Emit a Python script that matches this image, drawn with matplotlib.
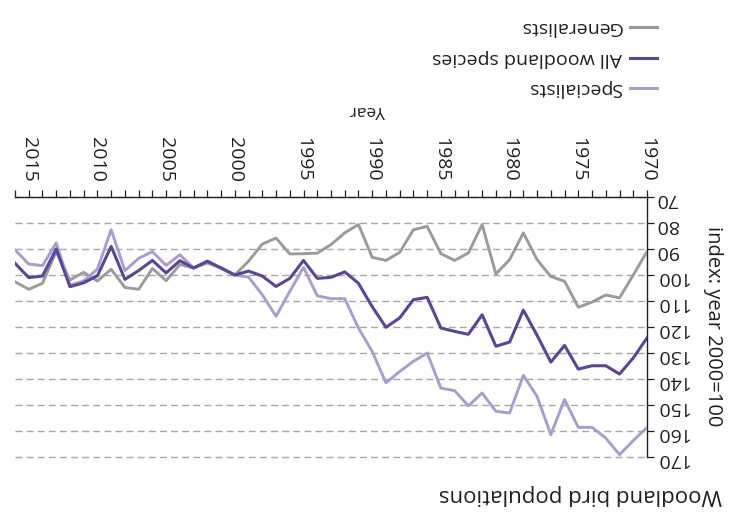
import matplotlib
matplotlib.use("Agg")
import matplotlib.pyplot as plt
from matplotlib.ticker import MultipleLocator
from matplotlib.lines import Line2D

# The reference chart is drawn upside down (rotated 180 degrees),
# so both axes are inverted and every text is rotated.

years = list(range(1970, 2017))

generalists = [91, 100, 108.8, 107.7, 110.4, 112.4, 102.4, 100.6, 94.1, 83.8,
               94.1, 99.6, 80.6, 91.5, 94.4, 91.8, 81.3, 82.6, 91.3, 94.4,
               93.2, 80.6, 83.8, 88.3, 91.6, 91.8, 91.9, 85.8, 88.1, 94.7,
               100, 97.3, 95.4, 97.3, 96.0, 102.2, 97.5, 105.5, 104.8, 97.8,
               102.3, 99, 101.9, 91, 103.2, 105.5, 102.6]

all_woodland = [124.2, 131.9, 138.1, 134.9, 134.9, 136.2, 127.1, 133.5, 123.2, 113.5,
                125.8, 127.4, 115.3, 122.8, 121.7, 120.4, 108.6, 109.5, 116.5, 120.1,
                112.2, 103.2, 98.8, 100.9, 101.3, 94.4, 101.3, 104.4, 100.4, 98.5,
                100, 97.3, 94.7, 97.3, 94.5, 99.2, 94.4, 98.3, 101.7, 89,
                100.3, 103, 104.5, 90, 100.4, 101, 95.5]

specialists = [158.6, 163.7, 169.1, 162.7, 158.6, 158.6, 147.9, 161.4, 146.7, 138.6,
               153.1, 152.4, 145.4, 150.3, 144.5, 143.5, 130, 133.2, 137.1, 141.5,
               129.4, 120.4, 109.1, 109.1, 108, 97.1, 106.3, 115.9, 107.6, 100.8,
               100, 97.5, 94.7, 97.3, 92.2, 96.3, 91, 93.6, 98.3, 82.6,
               97.7, 102.3, 103.9, 87.7, 96.4, 95.8, 90.3]

series_names = ["Generalists", "All woodland species", "Specialists"]
colors = {"Generalists": "#9b9b9b",
          "All woodland species": "#5c4499",
          "Specialists": "#a79ed0"}

year_ticks = list(range(1970, 2016, 5))
index_ticks = list(range(70, 171, 10))

plt.rcParams['font.family'] = ['Open Sans', 'DejaVu Sans']
txt_color = "#231f20"

fig = plt.figure(figsize=(7.32, 5.17), dpi=100)
ax = fig.add_axes([15 / 732, 1 - 457 / 517, 632 / 732, 260 / 517])

ax.plot(years, generalists, color=colors["Generalists"], lw=2.1, zorder=3)
ax.plot(years, specialists, color=colors["Specialists"], lw=2.1, zorder=4)
ax.plot(years, all_woodland, color=colors["All woodland species"], lw=2.2, zorder=5)

# upside-down orientation
ax.set_xlim(2016, 1970)
ax.set_ylim(170, 70)

ax.set_xticks(year_ticks)
ax.xaxis.set_minor_locator(MultipleLocator(1))
ax.set_yticks(index_ticks)

ax.xaxis.tick_top()
ax.yaxis.tick_right()
for s in ["left", "bottom"]:
    ax.spines[s].set_visible(False)
for s in ["top", "right"]:
    ax.spines[s].set_linewidth(1.0)
    ax.spines[s].set_color("#231f20")

ax.tick_params(axis="x", which="both", direction="out", length=5, width=0.9,
               color="#231f20", pad=38, labelsize=14, labelcolor=txt_color,
               labelrotation=270)
ax.tick_params(axis="y", direction="out", length=5, width=0.9,
               color="#231f20", pad=1, labelsize=14, labelcolor=txt_color,
               labelrotation=180)
for lab in ax.get_xticklabels():
    lab.set_va("top")

ax.yaxis.grid(True, linestyle=(0, (5, 3)), color="#a6a6a6", lw=1.0)
for gl in ax.get_ygridlines():
    gl.set_clip_on(False)
ax.set_axisbelow(True)

# axis labels and title (rotated 180)
fig.text(713 / 732, 1 - 326 / 517, "index: year 2000=100", rotation=270,
         ha="center", va="center", fontsize=14.5, color=txt_color)
fig.text(368 / 732, 1 - 110 / 517, "Year", rotation=180,
         ha="center", va="center", fontsize=12.5, color=txt_color)
fig.text(722 / 732, 1 - 494 / 517, "Woodland bird populations", rotation=180,
         ha="right", va="center", fontsize=16, color=txt_color)

# legend (drawn by hand so the text can be rotated)
leg_rows = [27, 58, 88]
for name, yy in zip(series_names, leg_rows):
    fy = 1 - yy / 517
    fig.add_artist(Line2D([630 / 732, 657 / 732], [fy, fy], transform=fig.transFigure,
                          color=colors[name], lw=2.2))
    fig.text(622 / 732, fy, name, rotation=180, ha="right", va="center",
             fontsize=14, color=txt_color)

fig.savefig("out.png", dpi=100)
